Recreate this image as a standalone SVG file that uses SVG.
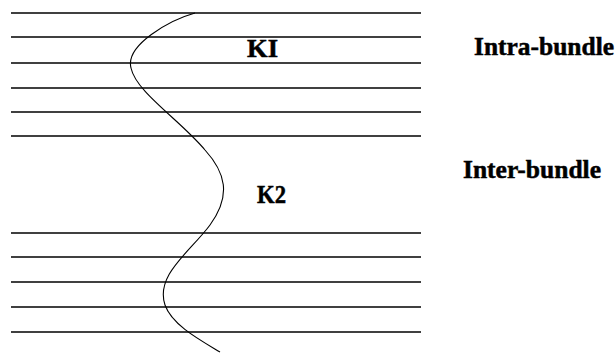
<svg xmlns="http://www.w3.org/2000/svg" width="616" height="353" viewBox="0 0 616 353">
<style>
.ln{stroke:#000;stroke-width:1.5;fill:none}
.cv{stroke:#000;stroke-width:1.1;fill:none}
.lb{font-family:"Liberation Serif","Times New Roman",serif;font-weight:bold;fill:#000;stroke:#000;stroke-width:0.5}
</style>
<rect width="616" height="353" fill="#fff"/>
<g id="fibers-top">
<line class="ln" x1="11" y1="13" x2="421" y2="13"/>
<line class="ln" x1="11" y1="37" x2="421" y2="37"/>
<line class="ln" x1="11" y1="63" x2="421" y2="63"/>
<line class="ln" x1="11" y1="88" x2="421" y2="88"/>
<line class="ln" x1="11" y1="112" x2="421" y2="112"/>
<line class="ln" x1="11" y1="136" x2="421" y2="136"/>
</g>
<g id="fibers-bottom">
<line class="ln" x1="11" y1="233" x2="421" y2="233"/>
<line class="ln" x1="11" y1="257" x2="421" y2="257"/>
<line class="ln" x1="11" y1="282" x2="421" y2="282"/>
<line class="ln" x1="11" y1="307" x2="421" y2="307"/>
<line class="ln" x1="11" y1="332" x2="421" y2="332"/>
</g>
<g id="crack">
<path class="cv" d="M195,13 C170,20 125,45 131,68 C136,92 180,120 205,150 C225,172 232,195 210,225 C190,252 155,275 165,305 C172,325 200,340 220,352"/>
</g>
<g id="labels">
<text class="lb" x="247" y="57" font-size="26" textLength="31" lengthAdjust="spacingAndGlyphs">KI</text>
<text class="lb" x="257" y="203" font-size="26" textLength="29" lengthAdjust="spacingAndGlyphs">K2</text>
<text class="lb" x="474" y="55" font-size="25" textLength="140" lengthAdjust="spacingAndGlyphs">Intra-bundle</text>
<text class="lb" x="463" y="178" font-size="25" textLength="138" lengthAdjust="spacingAndGlyphs">Inter-bundle</text>
</g>
</svg>
